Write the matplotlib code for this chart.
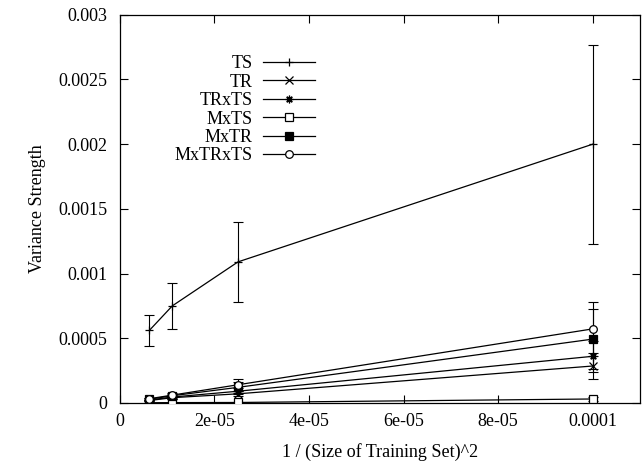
import numpy as np
import matplotlib
matplotlib.use('Agg')
import matplotlib.pyplot as plt
from matplotlib.ticker import FuncFormatter

plt.rcParams['font.family'] = ['Liberation Serif', 'DejaVu Serif']

# 1 / N^2 for N = 400, 300, 200, 100
x = [1/400**2, 1/300**2, 1/200**2, 1/100**2]

labels = ['TS', 'TR', 'TRxTS', 'MxTS', 'MxTR', 'MxTRxTS']
ts      = [0.00056, 0.00075, 0.00109, 0.00200]
ts_err  = [0.00012, 0.00018, 0.00031, 0.00077]
tr      = [0.000018, 0.000040, 0.000070, 0.000285]
tr_err  = [0.000005, 0.000010, 0.000020, 0.000100]
trts    = [0.000022, 0.000045, 0.000090, 0.000360]
trts_err = [0.000006, 0.000012, 0.000025, 0.000120]
mts     = [0.000001, 0.000002, 0.000003, 0.000030]
mts_err = [0.000001, 0.000002, 0.000004, 0.000012]
mtr     = [0.000028, 0.000055, 0.000120, 0.000493]
mtr_err = [0.000008, 0.000015, 0.000040, 0.000230]
mtrts   = [0.000032, 0.000060, 0.000140, 0.000572]
mtrts_err = [0.000009, 0.000017, 0.000045, 0.000210]

series = [ts, tr, trts, mts, mtr, mtrts]
errors = [ts_err, tr_err, trts_err, mts_err, mtr_err, mtrts_err]
markers = ['+', 'x', (8, 2, 0), 's', 's', 'o']
faces = ['k', 'k', 'k', 'w', 'k', 'w']

fig = plt.figure(figsize=(6.44, 4.62), dpi=100)
ax = fig.add_axes([0.186, 0.128, 0.808, 0.840])

handles = []
for y, e, m, fc, lab in zip(series, errors, markers, faces, labels):
    ax.errorbar(x, y, yerr=e, fmt='none', ecolor='k', elinewidth=0.8,
                capsize=3.5, capthick=0.8, zorder=2)
    h, = ax.plot(x, y, color='k', lw=0.9, marker=m, ms=5.5, mfc=fc,
                 mec='k', mew=0.9, label=lab, zorder=3)
    handles.append(h)

ax.set_xlim(0, 0.00011)
ax.set_ylim(0, 0.003)
ax.set_xticks(np.arange(0, 0.000101, 0.00002))
ax.set_yticks(np.arange(0, 0.0030001, 0.0005))
fmt = FuncFormatter(lambda v, p: '%g' % round(v, 10))
ax.xaxis.set_major_formatter(fmt)
ax.yaxis.set_major_formatter(fmt)
ax.tick_params(direction='in', length=6, width=0.8, top=True, right=True,
               labelsize=13)
ax.tick_params(axis='x', pad=7)
ax.tick_params(axis='y', pad=9)
for s in ax.spines.values():
    s.set_linewidth(0.9)

ax.set_xlabel('1 / (Size of Training Set)^2', fontsize=13, labelpad=10)
ax.set_ylabel('Variance Strength', fontsize=13, labelpad=9)

ax.legend(handles=handles, loc='upper right', bbox_to_anchor=(0.503, 0.900),
          bbox_transform=fig.transFigure, frameon=False, markerfirst=False,
          fontsize=13, handlelength=2.9, handletextpad=0.55,
          labelspacing=0.08, borderpad=0)

fig.savefig('out.png', dpi=100)
